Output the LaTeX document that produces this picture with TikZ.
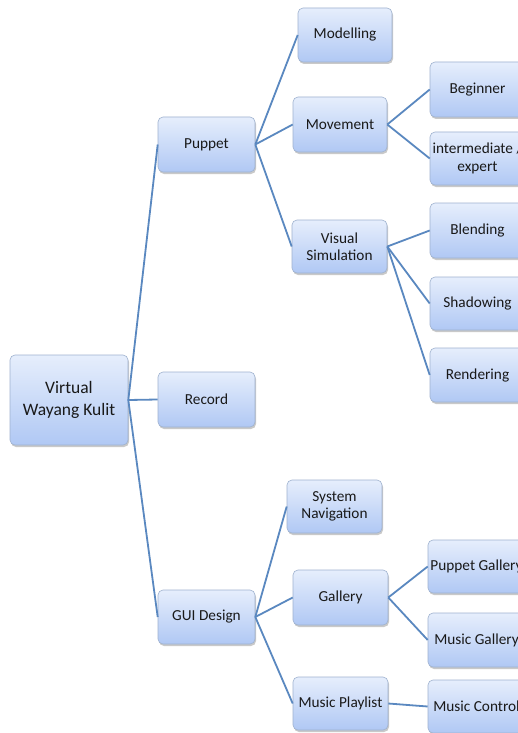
\documentclass[tikz,border=0pt]{standalone}
\usepackage{fontspec}
\setmainfont{Carlito}
\usetikzlibrary{shadows}
\definecolor{boxtop}{HTML}{E6EEFC}
\definecolor{boxbot}{HTML}{B0C8F4}
\definecolor{boxborder}{HTML}{9FB2CF}
\definecolor{linkcol}{HTML}{5A88C0}
\tikzset{
  box/.style={rounded corners=5pt, draw=boxborder, line width=0.6pt,
    top color=boxtop, bottom color=boxbot, align=center, inner sep=2pt,
    font=\fontsize{15.3}{17.5}\selectfont, text=black!90,
    drop shadow={shadow xshift=1pt, shadow yshift=-2pt, opacity=0.35, fill=black!60}},
  link/.style={draw=linkcol, line width=1.8pt}
}
\begin{document}
\begin{tikzpicture}[x=1pt,y=-1pt]
\useasboundingbox (0,0) rectangle (518,733);
\clip (0,0) rectangle (518,733);
\fill[white] (0,0) rectangle (518,733);
% level 0
\node[box, minimum width=118pt, minimum height=90pt, font=\fontsize{17.5}{22}\selectfont] (root) at (69,400) {Virtual\\Wayang Kulit};
% level 1
\node[box, minimum width=97pt, minimum height=55pt] (puppet) at (206.5,144.5) {Puppet};
\node[box, minimum width=97pt, minimum height=55pt] (record) at (206.5,399.5) {Record};
\node[box, minimum width=97pt, minimum height=54pt] (gui) at (206.5,617) {GUI Design};
% level 2
\node[box, minimum width=94pt, minimum height=54pt] (model) at (345,35) {Modelling};
\node[box, minimum width=94pt, minimum height=55pt] (move) at (340,124.5) {Movement};
\node[box, minimum width=95pt, minimum height=53pt] (visual) at (339.5,246.5) {Visual\\Simulation};
\node[box, minimum width=95pt, minimum height=53pt] (nav) at (334.5,506.5) {System\\Navigation};
\node[box, minimum width=95pt, minimum height=55pt] (gallery) at (340.5,597.5) {Gallery};
\node[box, minimum width=95pt, minimum height=53pt] (playlist) at (340.5,703.5) {Music Playlist};
% level 3
\node[box, minimum width=95pt, minimum height=55pt] (begin) at (477.5,89.5) {Beginner};
\node[box, minimum width=95pt, minimum height=53pt] (inter) at (477.5,158.5) {intermediate /\\expert};
\node[box, minimum width=95pt, minimum height=55pt] (blend) at (477.5,230.5) {Blending};
\node[box, minimum width=95pt, minimum height=53pt] (shadow) at (477.5,303.5) {Shadowing};
\node[box, minimum width=95pt, minimum height=54pt] (render) at (477.5,375) {Rendering};
\node[box, minimum width=97pt, minimum height=53pt] (pgal) at (476.5,566.5) {Puppet Gallery};
\node[box, minimum width=97pt, minimum height=54pt] (mgal) at (476.5,640) {Music Gallery};
\node[box, minimum width=97pt, minimum height=53pt] (mctl) at (476.5,706.5) {Music Control};
% connectors
\draw[link] (root.east) -- (puppet.west);
\draw[link] (root.east) -- (record.west);
\draw[link] (root.east) -- (gui.west);
\draw[link] (puppet.east) -- (model.west);
\draw[link] (puppet.east) -- (move.west);
\draw[link] (puppet.east) -- (visual.west);
\draw[link] (move.east) -- (begin.west);
\draw[link] (move.east) -- (inter.west);
\draw[link] (visual.east) -- (blend.west);
\draw[link] (visual.east) -- (shadow.west);
\draw[link] (visual.east) -- (render.west);
\draw[link] (gui.east) -- (nav.west);
\draw[link] (gui.east) -- (gallery.west);
\draw[link] (gui.east) -- (playlist.west);
\draw[link] (gallery.east) -- (pgal.west);
\draw[link] (gallery.east) -- (mgal.west);
\draw[link] (playlist.east) -- (mctl.west);
\end{tikzpicture}
\end{document}
